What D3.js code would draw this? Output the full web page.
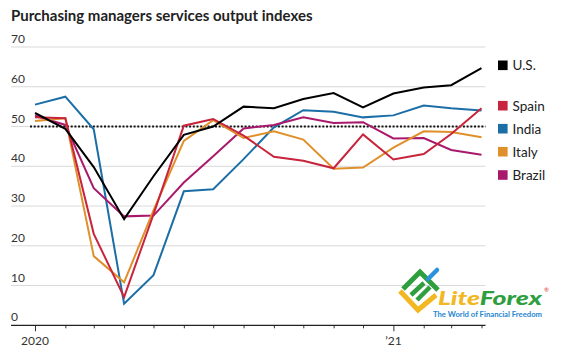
<!DOCTYPE html>
<html>
<head>
<meta charset="utf-8">
<script src="https://cdn.jsdelivr.net/npm/d3@7"></script>
<style>
  html, body { margin: 0; padding: 0; background: #fff; }
  svg { display: block; }
  text { font-family: Lato, "Noto Sans", sans-serif; }
</style>
</head>
<body>
<svg id="chart" width="561" height="355"></svg>
<script>
// ---- data ----
const months = ["2020-01","2020-02","2020-03","2020-04","2020-05","2020-06","2020-07","2020-08",
                "2020-09","2020-10","2020-11","2020-12","2021-01","2021-02","2021-03","2021-04"];
const us     = [53.4, 49.4, 39.8, 26.7, 37.5, 47.9, 50.0, 55.0, 54.6, 56.9, 58.4, 54.8, 58.3, 59.8, 60.4, 64.7];
const spain  = [52.3, 52.1, 23.0,  7.1, 27.9, 50.2, 51.9, 47.7, 42.4, 41.4, 39.5, 48.0, 41.7, 43.1, 48.1, 54.6];
const india  = [55.5, 57.5, 49.3,  5.4, 12.6, 33.7, 34.2, 41.8, 49.8, 54.1, 53.7, 52.3, 52.8, 55.3, 54.6, 54.0];
const italy  = [51.4, 52.1, 17.4, 10.8, 28.9, 46.4, 51.6, 47.1, 48.8, 46.7, 39.4, 39.7, 44.7, 48.8, 48.6, 47.3];
const brazil = [52.7, 50.4, 34.5, 27.4, 27.6, 35.9, 42.5, 49.5, 50.4, 52.3, 50.9, 51.1, 47.0, 47.1, 44.1, 42.9];
const yTicks = [0, 10, 20, 30, 40, 50, 60, 70];
const xLabels = [{date: "2020-01", label: "2020"}, {date: "2021-01", label: "\u201921"}];
const seriesNames = ["U.S.", "Spain", "India", "Italy", "Brazil"];
const threshold = 50;
const title = "Purchasing managers services output indexes";

const colors = {"U.S.": "#000000", "Spain": "#c8243c", "India": "#1b6ea6", "Italy": "#e0902a", "Brazil": "#a8196c"};
const seriesData = {"U.S.": us, "Spain": spain, "India": india, "Italy": italy, "Brazil": brazil};

const parse = d3.timeParse("%Y-%m");
const dates = months.map(parse);

const svg = d3.select("#chart");

const x = d3.scaleTime().domain([dates[0], dates[dates.length - 1]]).range([35, 481.5]);
const y = d3.scaleLinear().domain([0, 70]).range([325.3, 47]);
const gridLeft = 11, gridRight = 485.5;

// title
svg.append("text").attr("x", 11).attr("y", 21)
  .attr("font-size", 15).attr("font-weight", 700).attr("fill", "#222")
  .text(title);

// grid lines
svg.append("g").selectAll("line").data(yTicks.filter(d => d > 0)).join("line")
  .attr("x1", gridLeft).attr("x2", gridRight)
  .attr("y1", d => y(d)).attr("y2", d => y(d))
  .attr("stroke", "#d9d9d9").attr("stroke-width", 1);

// y labels
svg.append("g").selectAll("text").data(yTicks).join("text")
  .attr("x", 11).attr("y", d => y(d) - 4)
  .attr("font-size", 12).attr("fill", "#333")
  .text(d => d);

// x axis
const monthTicks = d3.timeMonth.range(dates[0], d3.timeMonth.offset(dates[dates.length - 1], 1));
const xAxis = d3.axisBottom(x).tickValues(monthTicks).tickSize(3).tickFormat("");
const gx = svg.append("g").attr("transform", `translate(0,${y(0)})`).call(xAxis);
gx.select(".domain").remove();
gx.selectAll(".tick line").attr("stroke", "#333").attr("stroke-width", 1)
  .attr("y2", d => d.getMonth() === 0 ? 6 : 3);
svg.append("line").attr("x1", gridLeft).attr("x2", gridRight)
  .attr("y1", y(0)).attr("y2", y(0)).attr("stroke", "#222").attr("stroke-width", 1.3);

svg.append("g").selectAll("text").data(xLabels).join("text")
  .attr("x", d => x(parse(d.date))).attr("y", 345)
  .attr("text-anchor", "middle").attr("font-size", 12).attr("fill", "#333")
  .text(d => d.label);

// threshold dotted line
svg.append("line").attr("x1", 30).attr("x2", gridRight)
  .attr("y1", y(threshold)).attr("y2", y(threshold))
  .attr("stroke", "#111").attr("stroke-width", 2).attr("stroke-dasharray", "2,1.7");

// lines
const line = d3.line().x((d, i) => x(dates[i])).y(d => y(d));
const drawOrder = ["India", "Brazil", "Italy", "Spain", "U.S."];
svg.append("g").selectAll("path").data(drawOrder).join("path")
  .attr("d", k => line(seriesData[k]))
  .attr("fill", "none").attr("stroke", k => colors[k])
  .attr("stroke-width", 2).attr("stroke-linejoin", "miter");

// legend
const legendY = {"U.S.": 65.3, "Spain": 105.7, "India": 128.7, "Italy": 151.7, "Brazil": 175};
const lg = svg.append("g").selectAll("g").data(seriesNames).join("g")
  .attr("transform", k => `translate(498,${legendY[k]})`);
lg.append("rect").attr("x", 0).attr("y", -4.8).attr("width", 9.6).attr("height", 9.6)
  .attr("fill", k => colors[k]);
lg.append("text").attr("x", 14.5).attr("y", 4.8)
  .attr("font-size", 13.5).attr("fill", "#222").text(k => k);

// watermark logo
const wm = svg.append("g");
wm.append("path").attr("d", "M400,291 L418,310 L436,295")
  .attr("fill", "none").attr("stroke", "#f2b824").attr("stroke-width", 5).attr("stroke-linejoin", "miter");
wm.append("path").attr("d", "M403,289 L420,272 L438,290")
  .attr("fill", "none").attr("stroke", "#2e9e3e").attr("stroke-width", 5);
wm.append("path").attr("d", "M411,295 L424,283 M417,300 L430,287")
  .attr("fill", "none").attr("stroke", "#2e9e3e").attr("stroke-width", 4.5);
wm.append("path").attr("d", "M428,279 L437,270")
  .attr("fill", "none").attr("stroke", "#2a93dc").attr("stroke-width", 4.5).attr("stroke-linecap", "round");
const wt = wm.append("text").attr("x", 438).attr("y", 305)
  .attr("font-size", 19).attr("font-weight", 900).attr("font-style", "italic")
  .attr("font-family", "Roboto, sans-serif")
  .attr("textLength", 104).attr("lengthAdjust", "spacingAndGlyphs");
wt.append("tspan").attr("fill", "#f2b824").text("Lite");
wt.append("tspan").attr("fill", "#2e9e3e").text("Forex");
wm.append("text").attr("x", 544).attr("y", 292).attr("font-size", 6)
  .attr("fill", "#d33").attr("font-family", "Roboto, sans-serif").text("\u00AE");
wm.append("text").attr("x", 433).attr("y", 317).attr("font-size", 7)
  .attr("font-weight", 700)
  .attr("fill", "#1f86d0").attr("font-family", "Roboto, sans-serif")
  .attr("textLength", 109).attr("lengthAdjust", "spacingAndGlyphs")
  .text("The World of Financial Freedom");
</script>
</body>
</html>
